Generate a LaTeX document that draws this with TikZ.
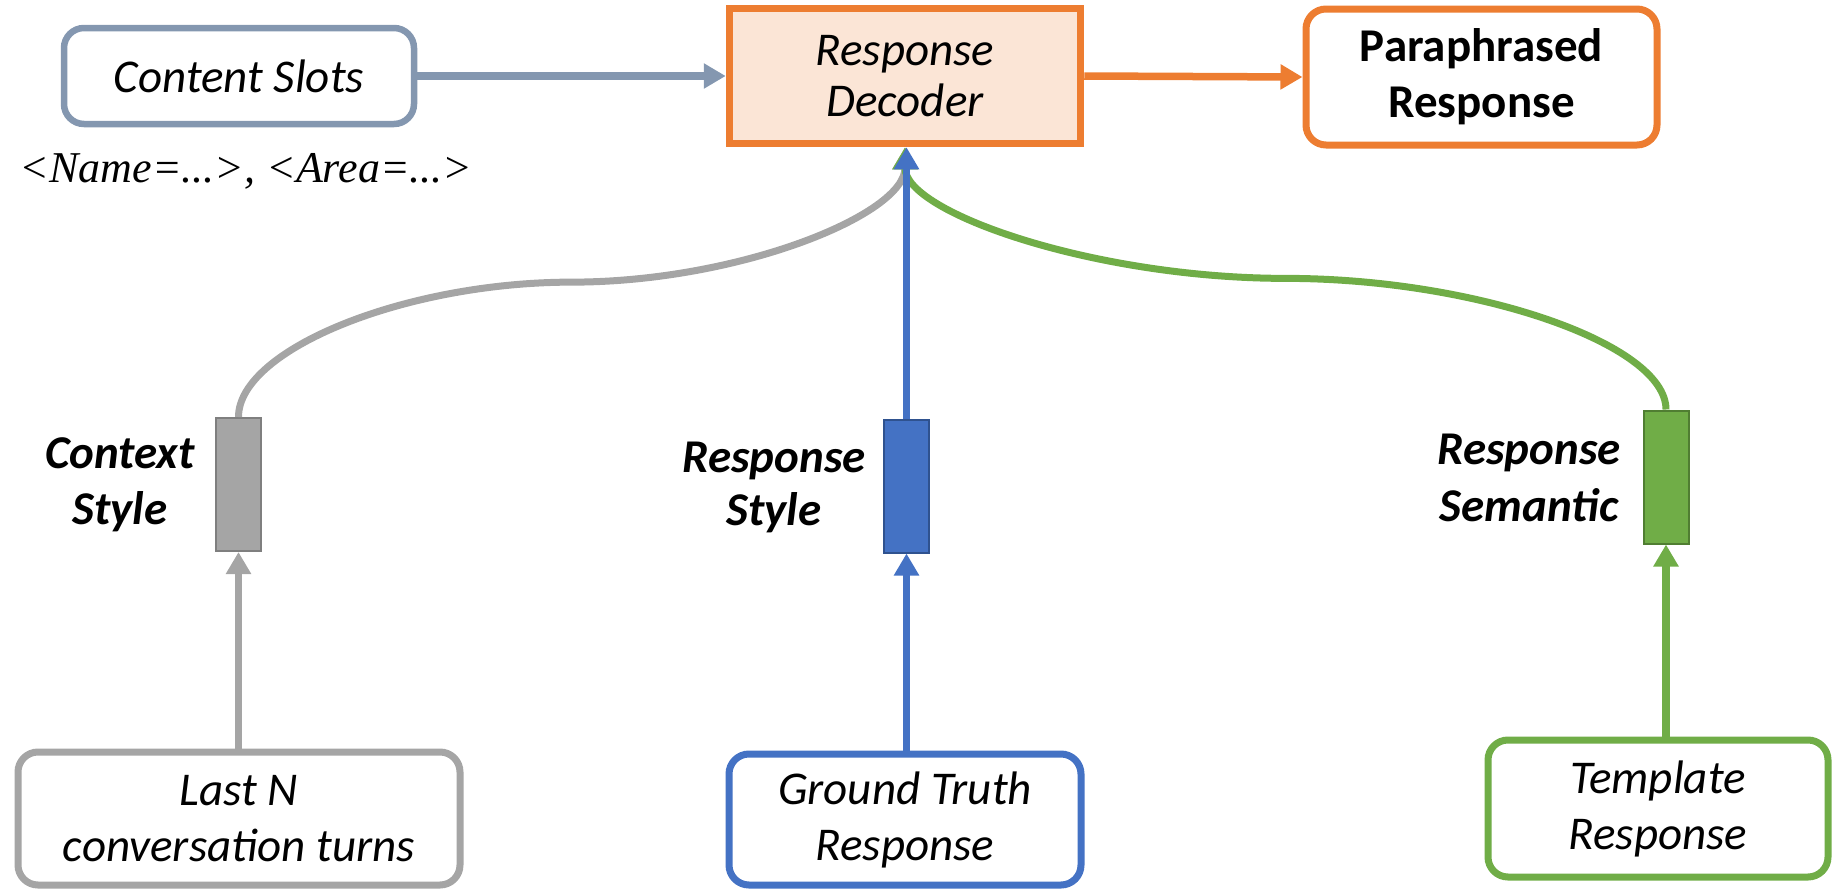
\documentclass[tikz,border=0pt]{standalone}
\usepackage{fontspec}
\setmainfont{Carlito}
\newfontfamily\capserif{Liberation Serif}
\usetikzlibrary{arrows.meta,calc}

\definecolor{slotgray}{HTML}{8497B0}
\definecolor{decfill}{HTML}{FBE5D6}
\definecolor{orangeA}{HTML}{ED7D31}
\definecolor{grayA}{HTML}{A5A5A5}
\definecolor{grayB}{HTML}{7F7F7F}
\definecolor{blueA}{HTML}{4472C4}
\definecolor{blueB}{HTML}{2F528F}
\definecolor{greenA}{HTML}{70AD47}
\definecolor{greenB}{HTML}{507E32}

\tikzset{
  txt/.style={font=\fontsize{23.5}{28}\selectfont, align=center, inner sep=0pt},
  roundbox/.style={txt, draw, rounded corners=10pt, line width=3.5pt, fill=white},
  featbar/.style={draw, line width=1pt, minimum width=22.5pt, minimum height=66.5pt, inner sep=0pt},
  conn/.style={line width=3.75pt, -{Triangle[width=12pt,length=11pt]}},
  curveconn/.style={line width=3.5pt, -{Triangle[width=12pt,length=11pt]}},
}

\begin{document}
\begin{tikzpicture}[x=0.5pt,y=-0.5pt]
\useasboundingbox (0,0) rectangle (1832,889);

% top row
\node[roundbox, draw=slotgray, line width=3.25pt, minimum width=175pt, minimum height=48pt] (slots) at (239,76) {\itshape Content Slots};
\node[txt, draw=orangeA, fill=decfill, line width=3.75pt, minimum width=175.5pt, minimum height=67.5pt,
      font=\fontsize{23.5}{25.5}\selectfont] (dec) at (905,76) {\itshape Response\\\itshape Decoder};
\node[roundbox, draw=orangeA, minimum width=175.5pt, minimum height=68pt] (para) at (1481.5,77) {\bfseries Paraphrased\\\bfseries Response};
\node[inner sep=0pt, font=\capserif\itshape\fontsize{22}{24}\selectfont] (slotex) at (246,171) {<Name=...>, <Area=...>};

\draw[conn, slotgray] (slots.east) -- (dec.west);
\draw[conn, orangeA] (dec.east) -- (para.west);

% feature bars
\node[featbar, draw=grayB, fill=grayA] (ctxbar) at (238.5,484.5) {};
\node[featbar, draw=blueB, fill=blueA] (rsbar) at (906.5,486) {};
\node[featbar, draw=greenB, fill=greenA] (sembar) at (1666,477) {};

\node[txt, font=\fontsize{23.5}{28}\selectfont\bfseries\itshape] (ctxlab) at (120,485) {Context\\Style};
\node[txt, font=\fontsize{23.5}{26.5}\selectfont\bfseries\itshape] (rslab) at (774,487) {Response\\Style};
\node[txt, font=\fontsize{23.5}{28.5}\selectfont\bfseries\itshape] (semlab) at (1529,478) {Response\\Semantic};

% inputs
\node[roundbox, draw=grayA, minimum width=221pt, minimum height=66.5pt] (lastn) at (239,818.5) {\itshape Last N\\\itshape conversation turns};
\node[roundbox, draw=blueA, minimum width=176pt, minimum height=65.5pt] (gt) at (905,819.5) {\itshape Ground Truth\\\itshape Response};
\node[roundbox, draw=greenA, minimum width=170pt, minimum height=68.5pt] (tpl) at (1658,808.5) {\itshape Template\\\itshape Response};

\draw[conn, grayA] (lastn.north -| ctxbar.south) -- (ctxbar.south);
\draw[conn, blueA] (gt.north -| rsbar.south) -- (rsbar.south);
\draw[conn, greenA] (tpl.north -| sembar.south) -- (sembar.south);

% curved feeds into the decoder
\coordinate (gm) at ($(ctxbar.north)!0.5!(dec.south)$);
\coordinate (gq1) at ($(ctxbar.north)!0.5!(gm)$);
\coordinate (gq2) at ($(gm)!0.5!(dec.south)$);
\draw[curveconn, grayA] (ctxbar.north) .. controls (ctxbar.north |- gq1) and (gq1 |- gm) .. (gm)
  .. controls (gq2 |- gm) and (dec.south |- gq2) .. (dec.south);

\coordinate (sm) at ($(sembar.north)!0.5!(dec.south)$);
\coordinate (sq1) at ($(sembar.north)!0.5!(sm)$);
\coordinate (sq2) at ($(sm)!0.5!(dec.south)$);
\draw[curveconn, greenA] (sembar.north) .. controls (sembar.north |- sq1) and (sq1 |- sm) .. (sm)
  .. controls (sq2 |- sm) and (dec.south |- sq2) .. (dec.south);

\draw[conn, blueA] (rsbar.north) -- (rsbar.north |- dec.south);
\end{tikzpicture}
\end{document}
